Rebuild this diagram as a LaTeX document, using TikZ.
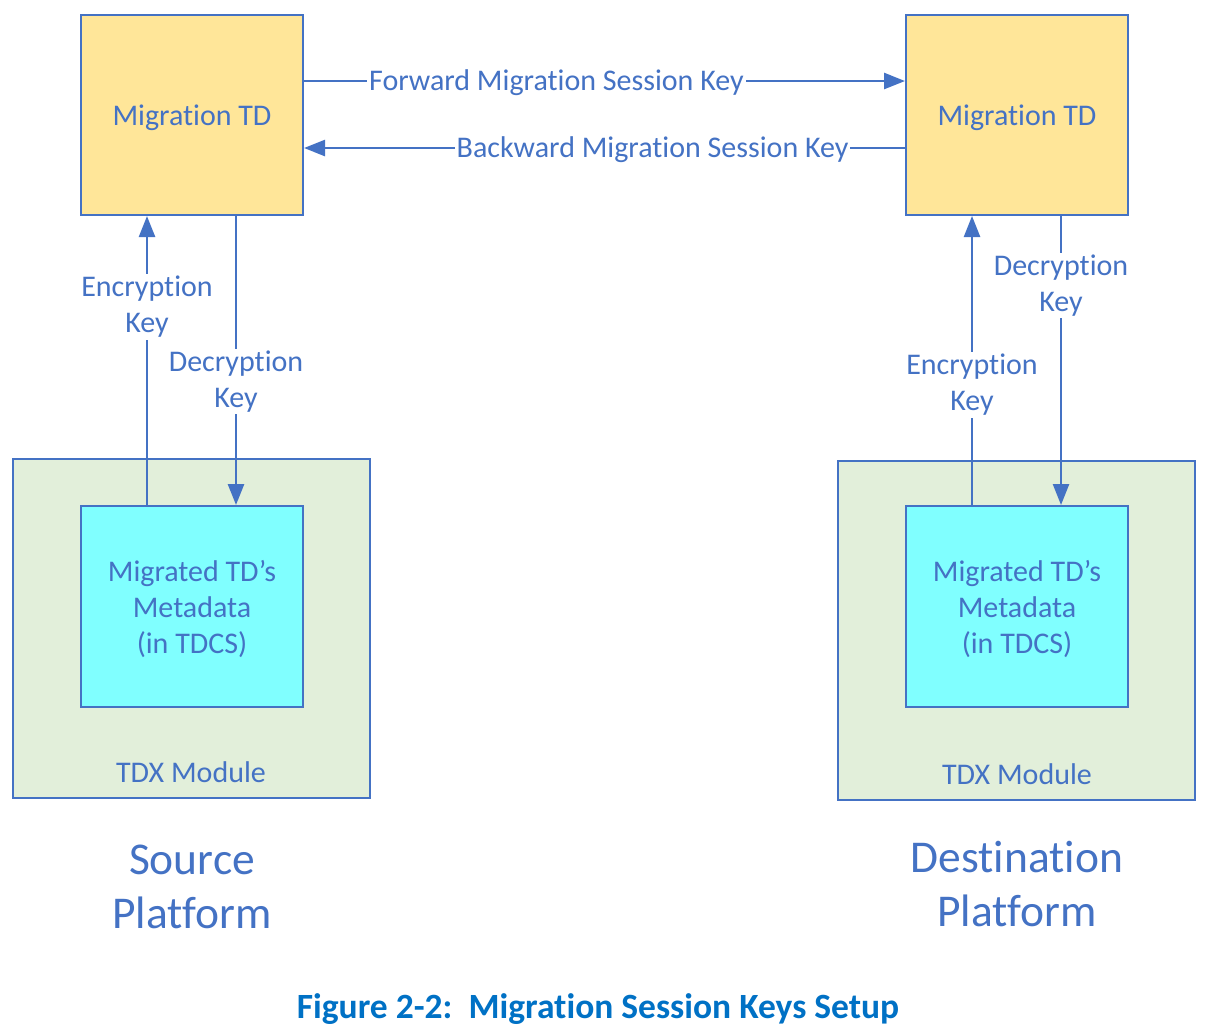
\documentclass[tikz,border=0pt]{standalone}
\usepackage{fontspec}
\setmainfont{Carlito}[Ligatures={NoCommon}]
\usetikzlibrary{arrows.meta}
\definecolor{lblue}{HTML}{4472C4}
\definecolor{tdyel}{HTML}{FFE699}
\definecolor{modgreen}{HTML}{E2EFDA}
\definecolor{metacyan}{HTML}{80FFFF}
\definecolor{capblue}{HTML}{0071C5}
\tikzset{
  box/.style={draw=lblue, line width=2pt, inner sep=0pt},
  tdbox/.style={box, fill=tdyel, minimum width=222pt, minimum height=200pt},
  metabox/.style={box, fill=metacyan, minimum width=222pt, minimum height=201pt},
  modbox/.style={box, fill=modgreen, minimum width=357pt, minimum height=339pt},
  conn/.style={draw=lblue, line width=2.5pt, -{Triangle[length=21pt,width=16pt]}},
  lbl/.style={fill=white, text=lblue, align=center, inner sep=2pt,
    font=\fontsize{30}{36}\selectfont},
  txt/.style={text=lblue, align=center, inner sep=0pt, font=\fontsize{30}{36}\selectfont},
  bigtxt/.style={text=lblue, align=center, inner sep=0pt, font=\fontsize{45.5}{54}\selectfont},
}
\begin{document}
\begin{tikzpicture}[x=1pt,y=-1pt]
\useasboundingbox (0,0) rectangle (1207,1034);
% modules
\node[modbox] (lmod) at (191.5,628.5) {};
\node[modbox] (rmod) at (1016.5,630.5) {};
\node[txt] (lmodt) at (191,772) {TDX Module};
\node[txt] (rmodt) at (1017,774) {TDX Module};
% metadata
\node[metabox, label={[txt, yshift=-2pt]center:{Migrated TD’s\\Metadata\\(in TDCS)}}] (lmeta) at (192,606.5) {};
\node[metabox, label={[txt, yshift=-2pt]center:{Migrated TD’s\\Metadata\\(in TDCS)}}] (rmeta) at (1017,606.5) {};
% migration TDs
\node[tdbox, label={[txt, yshift=-3pt]center:Migration TD}] (ltd) at (192,115) {};
\node[tdbox, label={[txt, yshift=-3pt]center:Migration TD}] (rtd) at (1017,115) {};
% session keys
\draw[conn] ([yshift=34pt]ltd.east) -- node[lbl, pos=0.42, yshift=-2pt]{Forward Migration Session Key} ([yshift=34pt]rtd.west);
\draw[conn] ([yshift=-33pt]rtd.west) -- node[lbl, pos=0.42, yshift=-2pt]{Backward Migration Session Key} ([yshift=-33pt]ltd.east);
% left keys
\draw[conn] ([xshift=-45pt]lmeta.north) -- node[lbl, pos=0.685]{Encryption\\Key} ([xshift=-45pt]ltd.south);
\draw[conn] ([xshift=44pt]ltd.south) -- node[lbl, pos=0.572]{Decryption\\Key} ([xshift=44pt]lmeta.north);
% right keys
\draw[conn] ([xshift=-45pt]rmeta.north) -- node[lbl, pos=0.415]{Encryption\\Key} ([xshift=-45pt]rtd.south);
\draw[conn] ([xshift=44pt]rtd.south) -- node[lbl, pos=0.24]{Decryption\\Key} ([xshift=44pt]rmeta.north);
% platforms
\node[bigtxt] (src) at (192,887) {Source\\Platform};
\node[bigtxt] (dst) at (1017,884) {Destination\\Platform};
% caption
\node[text=capblue, inner sep=0pt, font=\bfseries\fontsize{35.5}{40}\selectfont] (cap) at (598,1009) {Figure 2-2:\ \ Migration Session Keys Setup};
\end{tikzpicture}
\end{document}
